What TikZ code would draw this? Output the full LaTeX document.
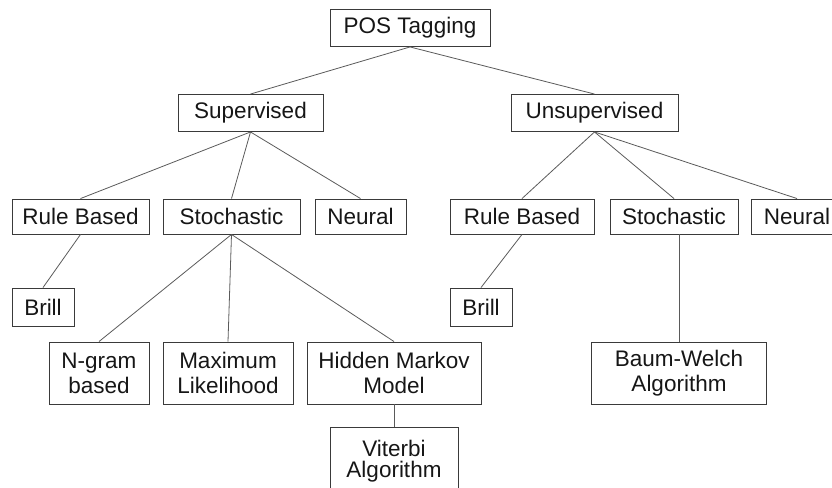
\documentclass[tikz,border=0pt]{standalone}
\usepackage{fontspec}
\setmainfont{Liberation Sans}
\usetikzlibrary{positioning}
\definecolor{ink}{HTML}{161616}
\definecolor{rim}{HTML}{3A3A3A}
\definecolor{wire}{HTML}{5A5A5A}
\begin{document}
\begin{tikzpicture}[x=1pt,y=-1pt,on grid,
    box/.style={draw=rim,line width=0.9pt,text=ink,inner sep=0pt,align=center,
      font=\fontsize{22.5}{25}\selectfont,minimum height=37pt},
    twoline/.style={box,minimum height=62pt},
    link/.style={draw=wire,line width=0.8pt}]
   \useasboundingbox (0,0) rectangle (832,487);
   \clip (0,0) rectangle (832,487);

   \node[box,minimum width=160pt] (pos) at (410,28) {POS Tagging};
   \node[box,minimum width=145pt] (sup) [below left=85pt and 159.5pt of pos] {Supervised};
   \node[box,minimum width=167pt] (uns) [below right=85pt and 184.5pt of pos] {Unsupervised};

   % supervised branch
   \node[box,minimum width=137pt,minimum height=35pt] (ruleS)  [below left=103.5pt and 170pt of sup] {Rule Based};
   \node[box,minimum width=137pt,minimum height=35pt] (stochS) [below left=103.5pt and 19pt of sup] {Stochastic};
   \node[box,minimum width=91pt,minimum height=35pt]  (neurS)  [below right=103.5pt and 110pt of sup] {Neural};
   \node[box,minimum width=62pt,minimum height=38pt]  (brillS) [below left=90.5pt and 37.5pt of ruleS] {Brill};
   \node[twoline,minimum width=100pt] (ngram) [below left=156.5pt and 132.5pt of stochS] {N-gram\\based};
   \node[twoline,minimum width=130pt] (maxl)  [below left=156.5pt and 3.5pt of stochS] {Maximum\\Likelihood};
   \node[twoline,minimum width=174pt] (hmm)   [below right=156.5pt and 162.5pt of stochS] {Hidden Markov\\Model};
   \node[box,minimum width=128pt,minimum height=68pt] (vit) [below=88pt of hmm] {\raisebox{3pt}{\shortstack{Viterbi\\[2pt]Algorithm}}};

   % unsupervised branch
   \node[box,minimum width=144pt,minimum height=35pt] (ruleU)  [below left=103.5pt and 72.5pt of uns] {Rule Based};
   \node[box,minimum width=128pt,minimum height=35pt] (stochU) [below right=103.5pt and 79.5pt of uns] {Stochastic};
   \node[box,minimum width=91pt,minimum height=35pt]  (neurU)  [below right=103.5pt and 202.5pt of uns] {Neural};
   \node[box,minimum width=62pt,minimum height=38pt]  (brillU) [below left=90.5pt and 41pt of ruleU] {Brill};
   \node[twoline,minimum width=175pt] (bw) [below right=156.5pt and 5pt of stochU] {Baum-Welch\\Algorithm};

   \path[link] (pos.south) edge (sup.north)
               (pos.south) edge (uns.north);
   \path[link] (sup.south) edge (ruleS.north)
               (sup.south) edge (stochS.north)
               (sup.south) edge (neurS.north);
   \path[link] (uns.south) edge (ruleU.north)
               (uns.south) edge (stochU.north)
               (uns.south) edge (neurU.north);
   \path[link] (ruleS.south) edge (brillS.north);
   \path[link] (ruleU.south) edge (brillU.north);
   \path[link] (stochS.south) edge (ngram.north)
               (stochS.south) edge (maxl.north)
               (stochS.south) edge (hmm.north);
   \path[link] (bw.north |- stochU.south) edge (bw.north);
   \path[link] (hmm.south) edge (vit.north);
\end{tikzpicture}
\end{document}
